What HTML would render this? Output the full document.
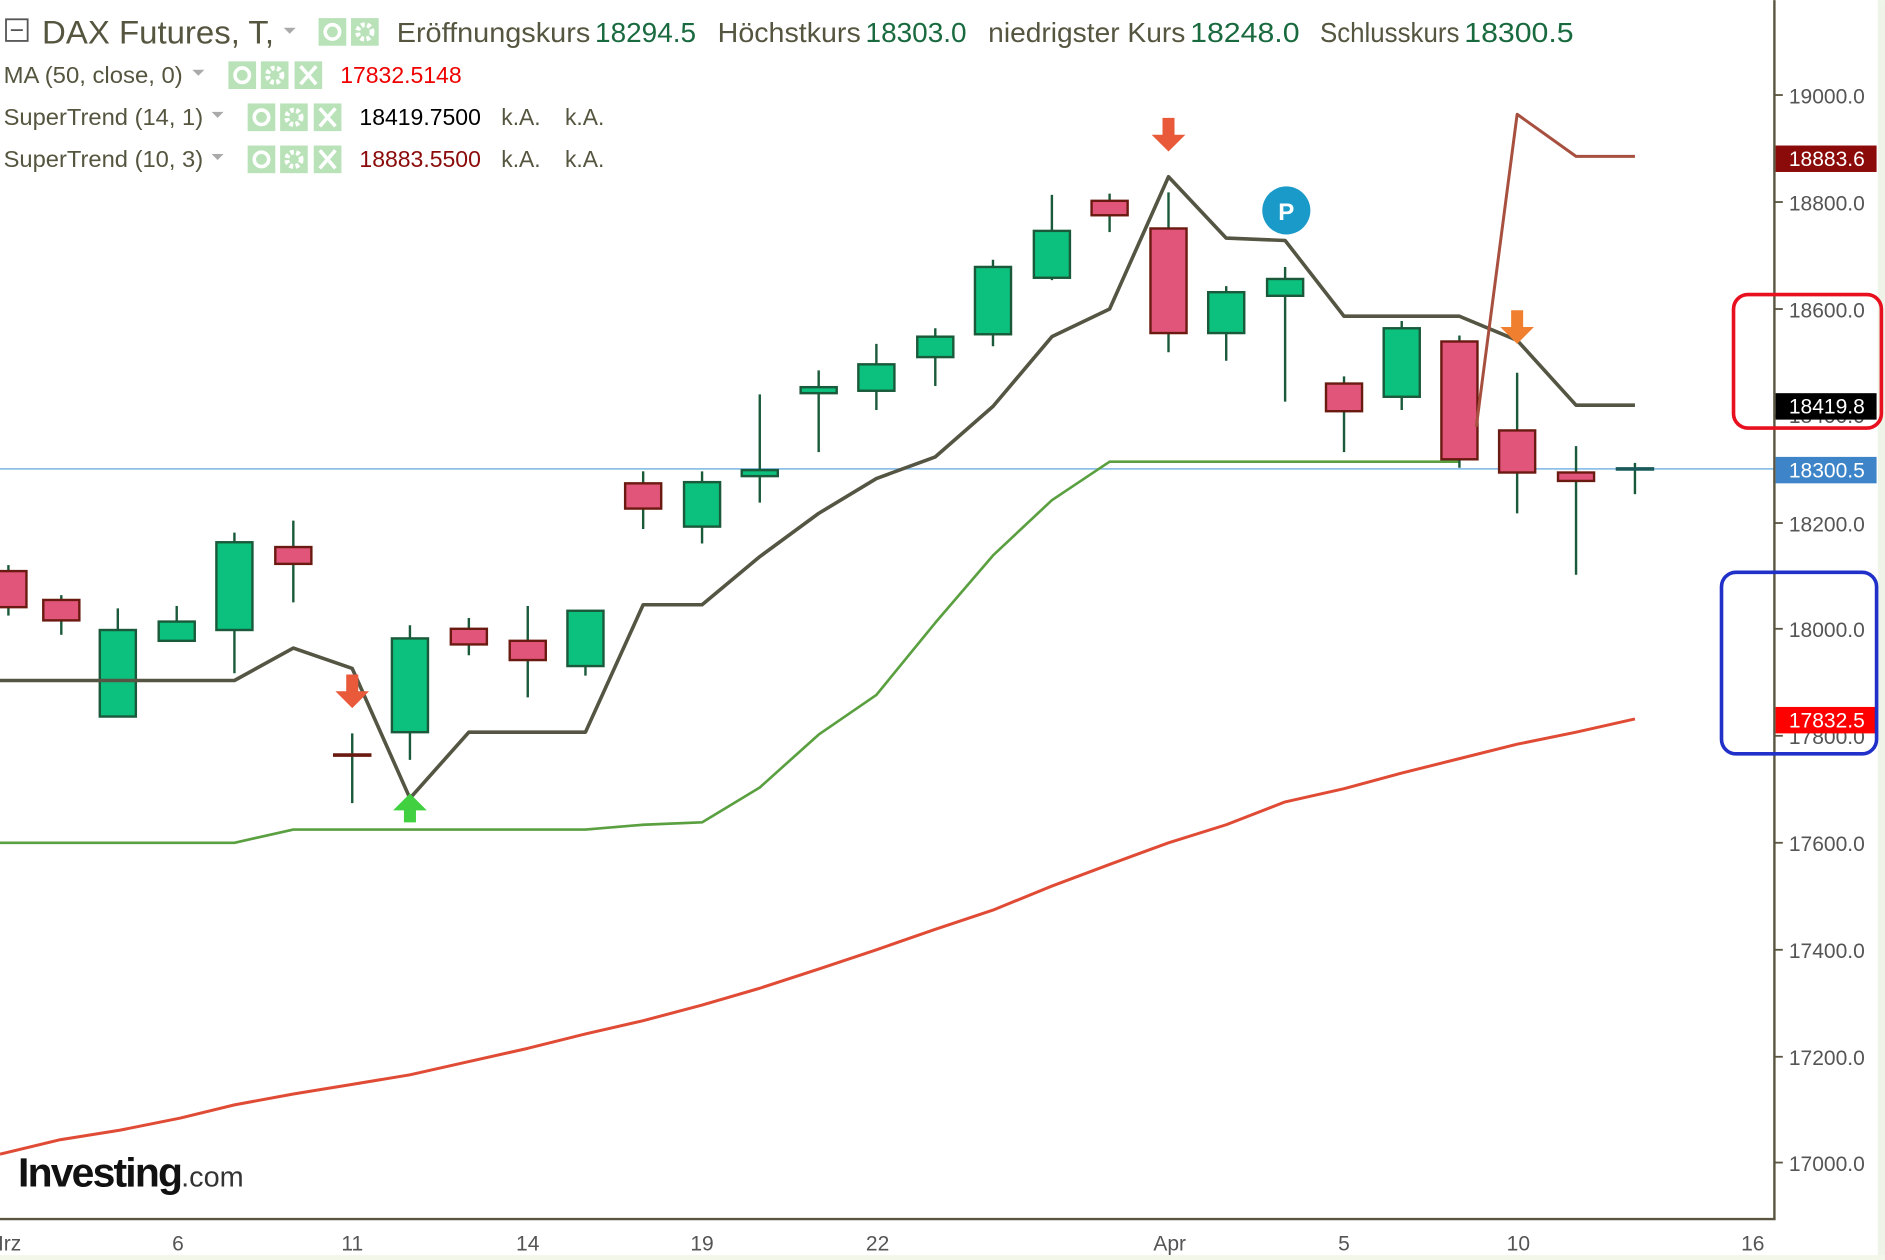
<!DOCTYPE html>
<html><head><meta charset="utf-8"><style>
html,body{margin:0;padding:0;background:#fff;width:1885px;height:1260px;overflow:hidden}
svg{display:block}
text{font-family:"Liberation Sans",sans-serif}
</style></head><body>
<svg id="s" width="1885" height="1260" viewBox="0 0 1568 1048" xmlns="http://www.w3.org/2000/svg">
<rect width="1568" height="1048" fill="#fff"/>
<rect x="1562" y="0" width="6" height="1048" fill="#eef5e8"/>
<rect x="0" y="1044" width="1568" height="4" fill="#f3f7ea"/>
<g id="g"></g>
<!-- axes -->
<line x1="1476" y1="0" x2="1476" y2="1014" stroke="#5a5540" stroke-width="2"/>
<line x1="0" y1="1014" x2="1477" y2="1014" stroke="#5a5540" stroke-width="2"/>
<g fill="#555" font-size="17.5">
<text x="1488" y="86">19000.0</text><text x="1488" y="175">18800.0</text>
<text x="1488" y="264">18600.0</text><text x="1488" y="352">18400.0</text>
<text x="1488" y="442">18200.0</text><text x="1488" y="530">18000.0</text>
<text x="1488" y="619">17800.0</text><text x="1488" y="708">17600.0</text>
<text x="1488" y="797">17400.0</text><text x="1488" y="886">17200.0</text>
<text x="1488" y="974">17000.0</text>
</g>
<g stroke="#5a5540" stroke-width="1.5">
<line x1="1476" y1="79" x2="1483" y2="79"/><line x1="1476" y1="168" x2="1483" y2="168"/>
<line x1="1476" y1="257" x2="1483" y2="257"/><line x1="1476" y1="346" x2="1483" y2="346"/>
<line x1="1476" y1="435" x2="1483" y2="435"/><line x1="1476" y1="523" x2="1483" y2="523"/>
<line x1="1476" y1="612" x2="1483" y2="612"/><line x1="1476" y1="701" x2="1483" y2="701"/>
<line x1="1476" y1="790" x2="1483" y2="790"/><line x1="1476" y1="879" x2="1483" y2="879"/>
<line x1="1476" y1="967" x2="1483" y2="967"/>
</g>
<rect x="1477" y="121" width="84" height="22" fill="#8b0a0a"/><text x="1488" y="138" fill="#fff" font-size="17.5">18883.6</text>
<rect x="1477" y="327" width="84" height="22" fill="#000"/><text x="1488" y="344" fill="#fff" font-size="17.5">18419.8</text>
<rect x="1477" y="380" width="84" height="22" fill="#3d85c8"/><text x="1488" y="397" fill="#fff" font-size="17.5">18300.5</text>
<rect x="1477" y="588" width="84" height="22" fill="#f00"/><text x="1488" y="605" fill="#fff" font-size="17.5">17832.5</text>
<rect x="1442" y="245" width="123" height="111" rx="12" fill="none" stroke="#e8101e" stroke-width="3"/>
<rect x="1432" y="476" width="129" height="151" rx="12" fill="none" stroke="#2030c8" stroke-width="3"/>
<g fill="#555" font-size="17.5" text-anchor="middle">
<text x="8" y="1040">Irz</text><text x="148" y="1040">6</text><text x="293" y="1040">11</text>
<text x="439" y="1040">14</text><text x="584" y="1040">19</text><text x="730" y="1040">22</text>
<text x="973" y="1040">Apr</text><text x="1118" y="1040">5</text><text x="1263" y="1040">10</text>
<text x="1458" y="1040">16</text>
</g>
<text x="15" y="987" font-size="34" font-weight="bold" fill="#111" letter-spacing="-1.5">Investing<tspan font-size="24" font-weight="normal" fill="#333" letter-spacing="0">.com</tspan></text>
<!-- header -->
<rect x="5" y="16" width="18" height="18" fill="none" stroke="#555" stroke-width="1.5"/><line x1="9" y1="25" x2="19" y2="25" stroke="#555" stroke-width="1.5"/>
<text x="35" y="36" font-size="27" fill="#555540" textLength="193" lengthAdjust="spacingAndGlyphs">DAX Futures, T,</text>
<g font-size="23" fill="#555540">
<text x="330" y="35" textLength="161" lengthAdjust="spacingAndGlyphs">Eröffnungskurs</text>
<text x="597" y="35" textLength="119" lengthAdjust="spacingAndGlyphs">Höchstkurs</text>
<text x="822" y="35" textLength="164" lengthAdjust="spacingAndGlyphs">niedrigster Kurs</text>
<text x="1098" y="35" textLength="116" lengthAdjust="spacingAndGlyphs">Schlusskurs</text>
</g>
<g font-size="23" fill="#1a6a40">
<text x="495" y="35" textLength="84" lengthAdjust="spacingAndGlyphs">18294.5</text>
<text x="720" y="35" textLength="84" lengthAdjust="spacingAndGlyphs">18303.0</text>
<text x="990" y="35" textLength="91" lengthAdjust="spacingAndGlyphs">18248.0</text>
<text x="1218" y="35" textLength="91" lengthAdjust="spacingAndGlyphs">18300.5</text>
</g>
<g font-size="19" fill="#555540">
<text x="3" y="69" textLength="149" lengthAdjust="spacingAndGlyphs">MA (50, close, 0)</text>
<text x="3" y="104" textLength="166" lengthAdjust="spacingAndGlyphs">SuperTrend (14, 1)</text>
<text x="3" y="139" textLength="166" lengthAdjust="spacingAndGlyphs">SuperTrend (10, 3)</text>
<text x="417" y="104">k.A.</text><text x="470" y="104">k.A.</text>
<text x="417" y="139">k.A.</text><text x="470" y="139">k.A.</text>
</g>
<text x="283" y="69" font-size="19" fill="#e00" textLength="101" lengthAdjust="spacingAndGlyphs">17832.5148</text>
<text x="299" y="104" font-size="19" fill="#000" textLength="101" lengthAdjust="spacingAndGlyphs">18419.7500</text>
<text x="299" y="139" font-size="19" fill="#8b0a0a" textLength="101" lengthAdjust="spacingAndGlyphs">18883.5500</text>
<g fill="#aaa"><path d="M236 23h10l-5 5z"/><path d="M160 58h10l-5 5z"/><path d="M176 93h10l-5 5z"/><path d="M176 128h10l-5 5z"/></g>
<g id="icons"></g>
</svg>
<script>
const g=document.getElementById('g');let h='';
const L=(pts,c,w)=>{h+=`<polyline points="${pts}" fill="none" stroke="${c}" stroke-width="${w}" stroke-linejoin="round"/>`;};
h+='<line x1="0" y1="390" x2="1476" y2="390" stroke="#8cc0ea" stroke-width="1.5"/>';
L("0,701 195,701 244,690 487,690 535,686 584,684 632,655 681,611 729,578 778,518 826,462 875,416 923,384 1214,384","#5aa040",2.2);
L("0,960 50,948 100,940 150,930 195,919 244,910 293,902 341,894 390,883 439,872 487,860 535,849 584,836 632,822 681,806 729,790 778,773 826,757 875,737 923,719 972,701 1020,686 1069,667 1118,656 1166,643 1214,631 1262,619 1311,609 1360,598","#e04b35",2.5);
const C=[[7,'r',475,505,470,512],[51,'r',499,516,495,528],[98,'g',524,596,506,596],[147,'g',517,533,504,533],[195,'g',451,524,443,560],[244,'r',455,469,433,501],[293,'d',627,629,610,668],[341,'g',531,609,520,632],[390,'r',523,536,514,545],[439,'r',533,549,504,580],[487,'g',508,554,508,562],[535,'r',402,423,392,440],[584,'g',401,438,392,452],[632,'g',391,396,328,418],[681,'g',322,327,308,376],[729,'g',303,325,286,341],[778,'g',280,297,273,321],[826,'g',222,278,216,288],[875,'g',192,231,162,233],[923,'r',167,179,161,193],[972,'r',190,277,160,293],[1020,'g',243,277,238,300],[1069,'g',232,246,222,334],[1118,'r',319,342,313,376],[1166,'g',273,330,267,341],[1214,'r',284,382,279,389],[1262,'r',358,393,310,427],[1311,'r',393,400,371,478],[1360,'t',389,391,385,411]];
for(const [x,t,a,b,w1,w2] of C){
 h+=`<line x1="${x}" y1="${w1}" x2="${x}" y2="${w2}" stroke="#1a5a3a" stroke-width="2"/>`;
 if(t=='d'){h+=`<line x1="${x-16}" y1="628" x2="${x+16}" y2="628" stroke="#6a1a10" stroke-width="3"/>`;continue;}
 if(t=='t'){h+=`<line x1="${x-16}" y1="390" x2="${x+16}" y2="390" stroke="#1a5a5a" stroke-width="3"/>`;continue;}
 const f=t=='r'?'#e2557a':'#0cc07e',s=t=='r'?'#6a1a10':'#1a5a3a';
 h+=`<rect x="${x-15}" y="${a}" width="30" height="${b-a}" fill="${f}" stroke="${s}" stroke-width="2"/>`;
}
L("0,566 195,566 244,539 293,556 341,664 390,609 487,609 535,503 584,503 632,463 681,427 729,398 778,380 826,338 875,280 923,257 972,147 1020,198 1069,200 1118,263 1214,263 1262,283 1311,337 1360,337","#555544",3);
L("1228,355 1262,95 1311,130 1360,130","#a85040",2.5);
const dn=(x,y,c)=>{h+=`<path d="M${x-5} ${y}h10v14h9l-14 14l-14-14h9z" fill="${c}"/>`;};
dn(972,98,'#e85a3a');dn(293,561,'#e85a3a');dn(1262,258,'#f08030');
h+=`<path d="M341 660l14 14h-9v10h-10v-10h-9z" fill="#40d040"/>`;
h+=`<circle cx="1070" cy="175" r="20" fill="#1a9ac8"/><text x="1070" y="183" font-size="20" font-weight="bold" fill="#fff" text-anchor="middle">P</text>`;
g.innerHTML=h;
let ic='';const box=(x,y,k)=>{ic+=`<rect x="${x}" y="${y}" width="23" height="23" fill="#b9e2b9"/>`;
 if(k=='e')ic+=`<circle cx="${x+11.5}" cy="${y+11.5}" r="6" fill="none" stroke="#fff" stroke-width="3"/>`;
 if(k=='s')ic+=`<circle cx="${x+11.5}" cy="${y+11.5}" r="6" fill="none" stroke="#fff" stroke-width="4" stroke-dasharray="3 2"/>`;
 if(k=='x')ic+=`<path d="M${x+5} ${y+4}L${x+18} ${y+19}M${x+18} ${y+4}L${x+5} ${y+19}" stroke="#fff" stroke-width="3"/>`;};
box(265,15,'e');box(292,15,'s');
box(190,51,'e');box(217,51,'s');box(245,51,'x');
box(206,86,'e');box(233,86,'s');box(261,86,'x');
box(206,121,'e');box(233,121,'s');box(261,121,'x');
document.getElementById('icons').innerHTML=ic;
</script>
</body></html>
